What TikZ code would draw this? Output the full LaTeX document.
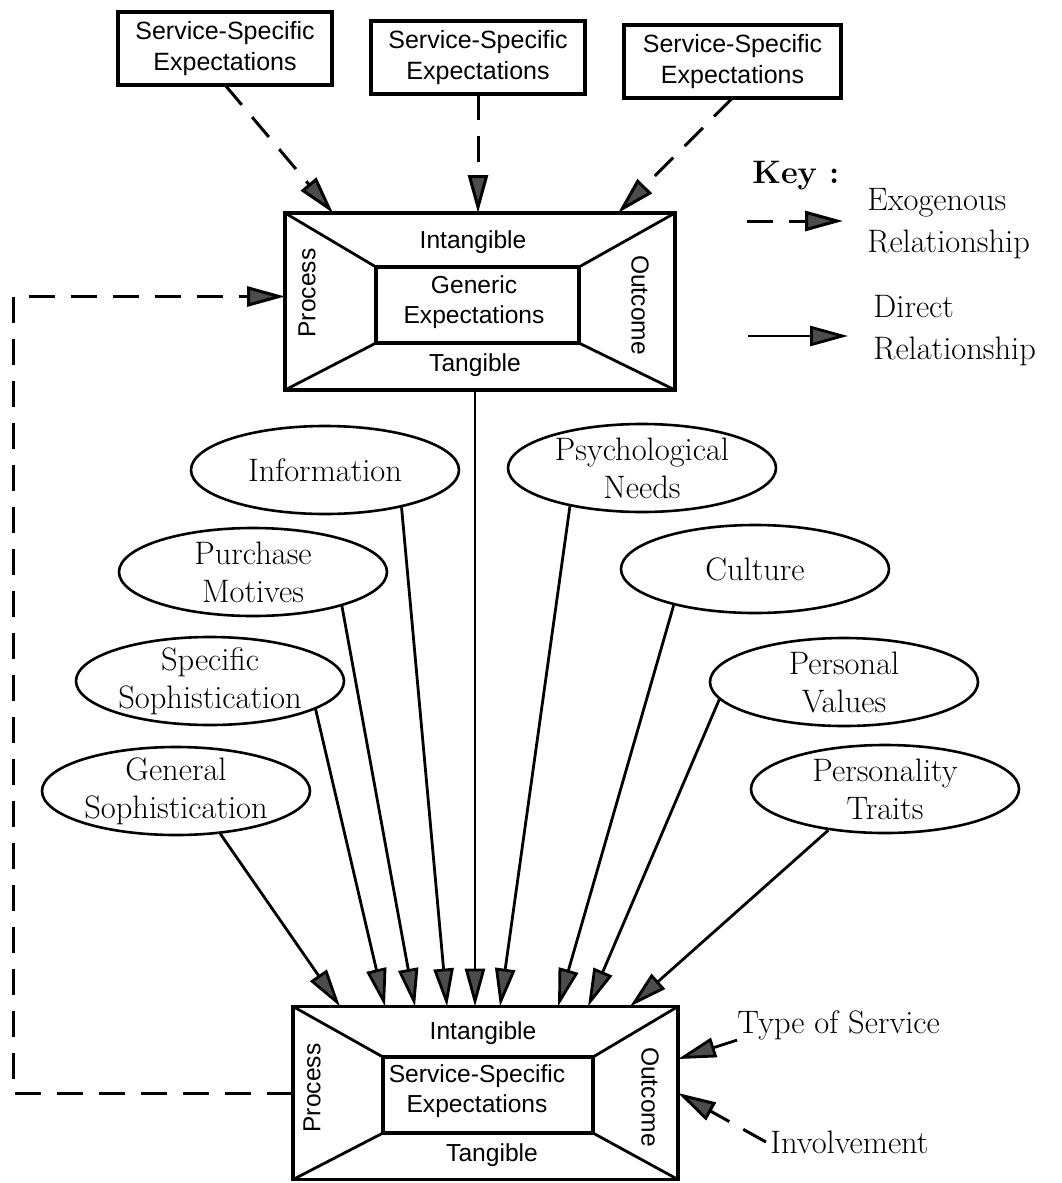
\documentclass[tikz,border=0pt]{standalone}
\usepackage{fontspec}
\setsansfont{Liberation Sans}
\usepackage{tikz}
\usetikzlibrary{arrows.meta,calc,shapes.geometric}

\begin{document}
\begin{tikzpicture}[x=0.5pt,y=-0.5pt]
  \tikzstyle{frame}=[draw,line width=1.6pt,inner sep=0pt,outer sep=0pt]
  \tikzstyle{sbox}=[frame,minimum width=107pt,minimum height=36.5pt,align=center,font=\sffamily\fontsize{12.5}{15.5}\selectfont]
  \tikzstyle{sans}=[inner sep=0pt,align=center,font=\sffamily\fontsize{12.3}{15}\selectfont]
  \tikzstyle{oval}=[ellipse,draw,line width=1.3pt,minimum width=134pt,minimum height=44pt,inner sep=0pt]
  \tikzstyle{serif}=[inner sep=0pt,align=center,font=\fontsize{16.25}{19}\selectfont]
  \tikzstyle{tip}=[-{Triangle[length=19pt,width=10pt,fill=black!70]}]
  \tikzstyle{exo}=[tip,line width=1.5pt,dash pattern=on 13pt off 8pt]
  \tikzstyle{direct}=[tip,line width=1.4pt]
  \useasboundingbox (0,0) rectangle (1061,1183);

  % exogenous service-specific expectations
  \node[sbox] (ss1) at (225,48.5) {Service-Specific\\Expectations};
  \node[sbox] (ss2) at (478,57.5) {Service-Specific\\Expectations};
  \node[sbox,minimum width=108.5pt] (ss3) at (732.5,61.5) {Service-Specific\\Expectations};

  % generic expectations
  \node[frame,minimum width=195pt,minimum height=88.5pt] (gen) at (480,301.5) {};
  \node[frame,minimum width=101.5pt,minimum height=38pt] (gen-in) at (477.5,305) {};
  \foreach \c in {north west,north east,south west,south east}
    \draw[line width=1.4pt] (gen.\c) -- (gen-in.\c);
  \node[sans] (gen-int) at (473,242) {Intangible};
  \node[sans] (gen-txt) at (474,302) {Generic\\Expectations};
  \node[sans] (gen-tan) at (475,365) {Tangible};
  \node[sans,rotate=90] (gen-pro) at (307,293) {Process};
  \node[sans,rotate=-90] (gen-out) at (640,305) {Outcome};

  % service-specific expectations
  \node[frame,minimum width=192.5pt,minimum height=86.5pt] (bot) at (485.5,1093) {};
  \node[frame,minimum width=105pt,minimum height=38pt] (bot-in) at (488,1095) {};
  \foreach \c in {north west,north east,south west,south east}
    \draw[line width=1.4pt] (bot.\c) -- (bot-in.\c);
  \node[sans] (bot-int) at (483,1033) {Intangible};
  \node[sans] (bot-txt) at (477,1091) {Service-Specific\\Expectations};
  \node[sans] (bot-tan) at (492,1155) {Tangible};
  \node[sans,rotate=90] (bot-pro) at (312,1088) {Process};
  \node[sans,rotate=-90] (bot-out) at (650,1097) {Outcome};

  % antecedents
  \node[oval] (info) at (325,470) {};
  \node[serif] (info-t) at (info) {Information};
  \node[oval] (psy) at (642,468) {};
  \node[serif] (psy-t) at (psy) {Psychological\\Needs};
  \node[oval] (pm) at (253,572) {};
  \node[serif] (pm-t) at (pm) {Purchase\\Motives};
  \node[oval] (cult) at (755,569) {};
  \node[serif] (cult-t) at (cult) {Culture};
  \node[oval] (sso) at (210,681) {};
  \node[serif] (sso-t) at (sso) {Specific\\Sophistication};
  \node[oval] (pv) at (844,682) {};
  \node[serif] (pv-t) at (pv) {Personal\\Values};
  \node[oval] (gso) at (176,791) {};
  \node[serif] (gso-t) at (gso) {General\\Sophistication};
  \node[oval] (pt) at (885,789) {};
  \node[serif] (pt-t) at (pt) {Personality\\Traits};

  % key
  \node[serif,anchor=west] (key) at (752,176) {\textbf{Key :}};
  \coordinate (kx1) at (747,221);
  \coordinate (kx2) at (843,221);
  \draw[exo] (kx1) -- (kx2);
  \node[serif,anchor=west,align=left,font=\fontsize{16.25}{21}\selectfont] (exo-t) at (867,224) {Exogenous\\Relationship};
  \coordinate (kd1) at (748,336);
  \coordinate (kd2) at (848,336);
  \draw[direct] (kd1) -- (kd2);
  \node[serif,anchor=west,align=left,font=\fontsize{16.25}{21}\selectfont] (dir-t) at (873,331) {Direct\\Relationship};

  % side influences
  \node[serif,anchor=west] (tos) at (737,1025) {Type of Service};
  \node[serif,anchor=west,inner sep=2pt] (inv) at (766,1142) {Involvement};

  % exogenous relationships
  \draw[exo] (ss1.south) -- ($(gen.north west)+(48,0)$);
  \draw[exo] (ss2.south) -- (ss2.south |- gen.north);
  \draw[exo] (ss3.south) -- ($(gen.north east)+(-57,0)$);
  \draw[exo] (bot.west) -- ++(-280,0) |- ($(gen.west)+(0,-5)$);
  \draw[exo] (inv.west) -- (bot.east);

  % direct relationships
  \draw[direct] ($(gen.south)+(-5,0)$) coordinate (gv) -- (gv |- bot.north);
  \draw[direct] (gso.-44) -- ($(bot.north west)+(47,0)$);
  \draw[direct] (sso.-15) -- ($(bot.north west)+(92,0)$);
  \draw[direct] (pm.-21) -- ($(bot.north west)+(122,0)$);
  \draw[direct] (info.-26) -- ($(bot.north west)+(154,0)$);
  \draw[direct] (psy.-152) -- ($(bot.north west)+(207,0)$);
  \draw[direct] (cult.-156) -- ($(bot.north west)+(265,0)$);
  \draw[direct] (pv.-172) -- ($(bot.north west)+(295,0)$);
  \draw[direct] (pt.-144) -- ($(bot.north west)+(337,0)$);
  \draw[direct] (tos.south west) -- (bot.10);
\end{tikzpicture}
\end{document}
